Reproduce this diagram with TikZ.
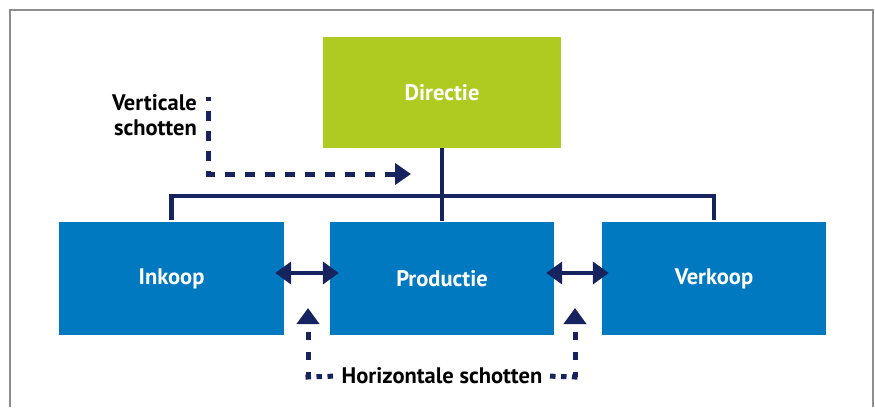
\documentclass[tikz,border=0pt]{standalone}
\usepackage{fontspec}
\setmainfont{PT Sans}
\usetikzlibrary{arrows.meta}
\definecolor{dgreen}{HTML}{AFCA21}
\definecolor{dblue}{HTML}{0079C1}
\definecolor{navy}{HTML}{16235E}
\definecolor{framegray}{HTML}{8E8E8E}
\begin{document}
\begin{tikzpicture}[x=1pt,y=-1pt,
  lblfont/.style={font=\fontsize{22.5}{25.5}\selectfont\bfseries},
  box/.style={rectangle, inner sep=0pt, text=white, lblfont},
  lbl/.style={inner sep=4pt, text=black, lblfont},
  tree/.style={draw=navy, line width=4.5pt, line join=miter},
  scr/.style={draw=navy, line width=5pt},
  dbl/.style={draw=navy, line width=4.5pt, {Triangle[length=16pt,width=22pt]}-{Triangle[length=16pt,width=22pt]}}
]
\useasboundingbox (0,0) rectangle (875,407);
% frame
\draw[framegray, line width=1.5pt] (10,407) |- (873,10) -- (873,407);

% boxes
\node[box, fill=dgreen, minimum width=238pt, minimum height=111pt] (dir) at (442,92.5) {Directie};
\node[box, fill=dblue, minimum width=225pt, minimum height=113pt] (ink) at (171.5,278.5) {Inkoop};
\node[box, fill=dblue, minimum width=224pt, minimum height=113pt] (prod) at (442,278.5) {Productie};
\node[box, fill=dblue, minimum width=224pt, minimum height=113pt] (verk) at (714,278.5) {Verkoop};

% tree
\coordinate (tj) at (442,196);
\draw[tree] (dir.south) -- ([yshift=1pt]prod.north);
\draw[tree, shorten <=2pt, shorten >=2pt] (ink.north) |- (tj) -| (verk.north);

% vertical screens
\node[lbl, anchor=east, align=right] (vl) at (201,115) {Verticale\\schotten};
\coordinate (vtop) at (208,97);
\coordinate (vtip) at (411,174);
\draw[scr, dash pattern=on 10pt off 10pt, dash phase=6pt, -{Triangle[length=16pt,width=21pt]}] (vtop) |- (vtip);

% double arrows
\draw[dbl, shorten <=-9pt, shorten >=-9pt] ([yshift=5.5pt]ink.east) -- ([yshift=5.5pt]prod.west);
\draw[dbl, shorten <=-8pt, shorten >=-7pt] ([yshift=5.5pt]prod.east) -- ([yshift=5.5pt]verk.west);

% horizontal screens
\node[lbl] (hl) at (442,376) {Horizontale schotten};
\coordinate (hAc) at (308,377);
\coordinate (hAtip) at (308,308);
\coordinate (hBc) at (575,377);
\coordinate (hBtip) at (575,308);
\draw[scr, dash pattern=on 5.5pt off 5.5pt, shorten <=-2.5pt] (hAc) -- (hl.west);
\draw[scr, dash pattern=on 5.5pt off 5.5pt, shorten <=-2.5pt] (hBc) -- (hl.east);
\draw[scr, dash pattern=on 8pt off 12pt, dash phase=3pt, -{Triangle[length=16pt,width=22pt]}] (hAc) -- (hAtip);
\draw[scr, dash pattern=on 8pt off 12pt, dash phase=3pt, -{Triangle[length=16pt,width=22pt]}] (hBc) -- (hBtip);
\end{tikzpicture}
\end{document}
